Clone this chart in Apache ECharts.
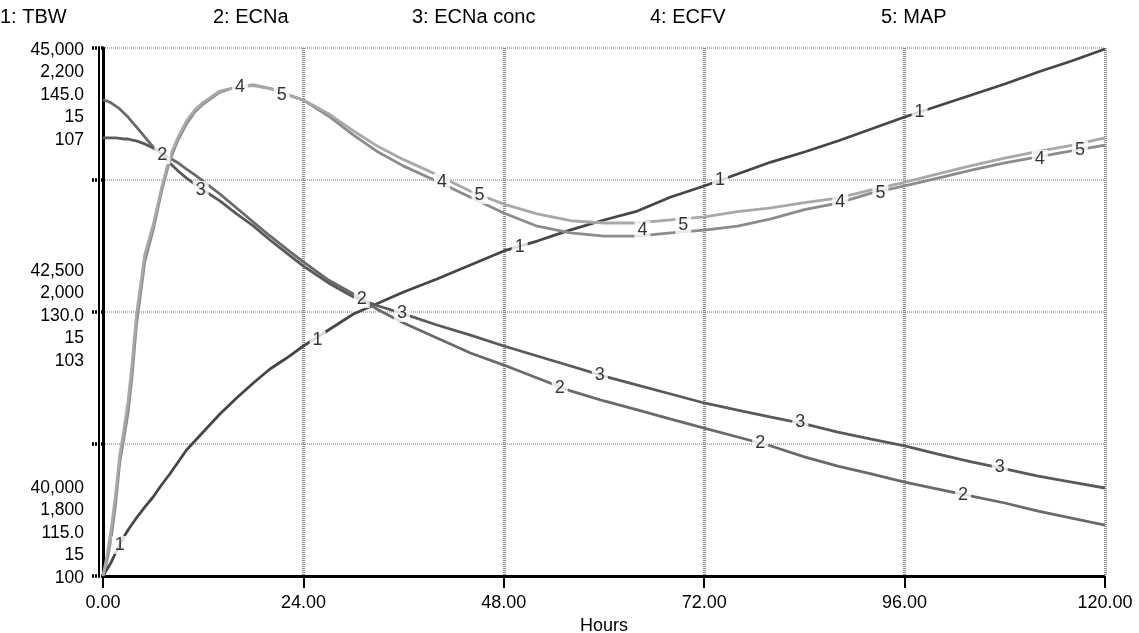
<!DOCTYPE html>
<html>
<head>
<meta charset="utf-8">
<script src="https://cdn.jsdelivr.net/npm/echarts@6/dist/echarts.min.js"></script>
<style>
  html, body { margin: 0; padding: 0; background: #fff; }
  #chart { width: 1139px; height: 633px; }
</style>
</head>
<body>
<div id="chart"></div>
<script>
// Simulation output sampled over 120 hours
const hours = [0, 0.5, 1, 1.5, 2, 2.5, 3, 3.5, 4, 5, 6, 7, 8, 9, 10, 11, 12, 14, 16, 18, 20, 22, 24,
  27, 30, 33, 36, 40, 44, 48, 52, 56, 60, 64, 68, 72, 76, 80, 84, 88, 92, 96, 100, 104, 108, 112, 116, 120];

const tbw = [40000, 40066, 40133, 40218, 40294, 40369, 40436, 40492, 40549, 40653, 40748, 40862, 40966,
  41080, 41193, 41278, 41364, 41534, 41686, 41828, 41960, 42064, 42178, 42330, 42481, 42585, 42689,
  42813, 42945, 43078, 43172, 43277, 43371, 43456, 43589, 43693, 43807, 43920, 44015, 44119, 44233,
  44347, 44451, 44555, 44659, 44773, 44877, 44991];

const ecna = [2160.6, 2159.8, 2158.3, 2156.1, 2153.8, 2150.8, 2147.7, 2143.9, 2140.2, 2132.6, 2125.0,
  2120.5, 2116.7, 2112.9, 2108.3, 2103.8, 2099.2, 2089.4, 2078.8, 2068.2, 2057.6, 2047.7, 2037.9,
  2024.2, 2013.6, 2001.5, 1991.7, 1980.3, 1968.9, 1959.8, 1950.0, 1940.2, 1932.6, 1925.8, 1918.9,
  1912.1, 1905.3, 1898.5, 1890.2, 1883.3, 1877.3, 1871.2, 1865.9, 1860.6, 1855.3, 1849.2, 1843.9, 1838.6];

const ecnaConc = [139.89, 139.89, 139.89, 139.89, 139.86, 139.83, 139.83, 139.77, 139.72, 139.55, 139.32,
  138.98, 138.47, 138.01, 137.61, 137.27, 136.93, 136.31, 135.57, 134.89, 134.09, 133.35, 132.61,
  131.65, 130.85, 130.34, 129.89, 129.26, 128.69, 128.07, 127.50, 126.93, 126.36, 125.85, 125.34,
  124.83, 124.43, 124.03, 123.64, 123.18, 122.78, 122.39, 121.93, 121.48, 121.08, 120.68, 120.34, 120.00];

const ecfv = [14.600, 14.624, 14.659, 14.708, 14.771, 14.809, 14.847, 14.905, 14.980, 15.076, 15.124,
  15.182, 15.230, 15.261, 15.285, 15.303, 15.315, 15.333, 15.341, 15.344, 15.339, 15.330, 15.321,
  15.297, 15.268, 15.242, 15.221, 15.198, 15.174, 15.150, 15.130, 15.120, 15.115, 15.115, 15.120,
  15.124, 15.130, 15.141, 15.155, 15.165, 15.180, 15.191, 15.203, 15.215, 15.226, 15.235, 15.244, 15.253];

const map = [100.00, 100.28, 100.64, 101.07, 101.60, 101.94, 102.31, 102.84, 103.46, 104.26, 104.65,
  105.14, 105.56, 105.82, 106.03, 106.18, 106.28, 106.43, 106.48, 106.50, 106.46, 106.38, 106.31,
  106.13, 105.90, 105.69, 105.52, 105.32, 105.10, 104.93, 104.80, 104.71, 104.68, 104.68, 104.72,
  104.76, 104.83, 104.88, 104.95, 105.01, 105.12, 105.22, 105.33, 105.44, 105.54, 105.63, 105.71, 105.81];

// Series names and the scale each one is plotted on
const seriesNames = ['TBW', 'ECNa', 'ECNa conc', 'ECFV', 'MAP'];
const scaleMin = [40000, 1800, 115, 14.6, 100];
const scaleMax = [45000, 2200, 145, 15.4, 107];

// Stacked tick labels (one entry per series) at the bottom, middle and top of the y range
const tickLabelsBottom = ['40,000', '1,800', '115.0', '15', '100'];
const tickLabelsMiddle = ['42,500', '2,000', '130.0', '15', '103'];
const tickLabelsTop = ['45,000', '2,200', '145.0', '15', '107'];

// Where each curve carries its number tag
const labelHours = [
  [2.0, 25.7, 49.9, 73.9, 97.8],
  [7.1, 31.0, 54.7, 78.7, 103.0],
  [11.7, 35.8, 59.5, 83.5, 107.4],
  [16.4, 40.6, 64.6, 88.3, 112.2],
  [21.4, 45.1, 69.5, 93.1, 117.0]
];
const tbwTags = [40294, 42235, 43116, 43750, 44394];
const ecnaTags = [2118.9, 2009.8, 1942.4, 1900.8, 1861.4];
const ecnaConcTags = [136.93, 129.94, 126.42, 123.75, 121.19];
const ecfvTags = [15.341, 15.197, 15.124, 15.167, 15.232];
const mapTags = [106.38, 105.05, 104.65, 105.08, 105.65];

const xTicks = { min: 0, max: 120, interval: 24 };
const legendLeft = [0, 213, 412, 650, 881];

const FONT = '"Liberation Sans", Arial, Helvetica, sans-serif';
const lineColors = ['#464646', '#6a6a6a', '#5a5a5a', '#8c8c8c', '#a8a8a8'];
const valueSets = [tbw, ecna, ecnaConc, ecfv, map];
const tagSets = [tbwTags, ecnaTags, ecnaConcTags, ecfvTags, mapTags];

// a short spacer line pushes each stacked block a few pixels down
function stackedLabel(idx) {
  if (idx === 0) return '{s| }\n' + tickLabelsBottom.join('\n') + '\n\n\n\n';
  if (idx === 2) return '{s| }\n{s| }\n' + tickLabelsMiddle.join('\n');
  if (idx === 4) return '{s| }\n\n\n\n\n' + tickLabelsTop.join('\n');
  return '';
}

const yAxes = scaleMin.map((mn, i) => {
  const step = (scaleMax[i] - mn) / 4;
  if (i !== 0) {
    return { type: 'value', min: mn, max: scaleMax[i], show: false, position: 'left' };
  }
  return {
    type: 'value',
    position: 'left',
    min: mn,
    max: scaleMax[i],
    interval: step,
    axisLine: { show: true, lineStyle: { color: '#000', width: 3 } },
    axisTick: { show: true, length: 11, lineStyle: { color: '#000', width: 3.5, type: [2, 1] } },
    axisLabel: {
      margin: 19,
      color: '#000',
      fontSize: 17.5,
      fontFamily: FONT,
      lineHeight: 22.5,
      align: 'right',
      rich: { s: { fontSize: 2, lineHeight: 4 } },
      formatter: (v) => stackedLabel(Math.round((v - mn) / step))
    },
    splitLine: { show: true, lineStyle: { color: '#b4b4b4', width: 2, type: [1, 1] } }
  };
});
// outer rule of the double left border
yAxes.push({
  type: 'value', position: 'left', offset: 4, min: 0, max: 1,
  axisLine: { show: true, lineStyle: { color: '#000', width: 2 } },
  axisTick: { show: false }, axisLabel: { show: false }, splitLine: { show: false }
});

const series = [];
valueSets.forEach((vals, i) => {
  series.push({
    name: seriesNames[i],
    type: 'line',
    yAxisIndex: i,
    data: hours.map((h, k) => [h, vals[k]]),
    showSymbol: false,
    symbol: 'none',
    silent: true,
    lineStyle: { color: lineColors[i], width: 2.8 },
    z: 2
  });
});
tagSets.forEach((vals, i) => {
  series.push({
    type: 'scatter',
    yAxisIndex: i,
    data: labelHours[i].map((h, k) => [h, vals[k]]),
    symbolSize: 1,
    silent: true,
    itemStyle: { color: 'rgba(0,0,0,0)' },
    label: {
      show: true,
      position: 'inside',
      formatter: String(i + 1),
      color: '#000',
      fontSize: 18,
      fontFamily: FONT,
      backgroundColor: '#fff',
      padding: [0, 3]
    },
    z: 5
  });
});

const chart = echarts.init(document.getElementById('chart'), null, { renderer: 'canvas' });
chart.setOption({
  animation: false,
  backgroundColor: '#fff',
  title: seriesNames.map((n, i) => ({
    text: (i + 1) + ': ' + n,
    left: legendLeft[i],
    top: 7,
    padding: 0,
    textStyle: { fontSize: 20, fontWeight: 'normal', color: '#000', fontFamily: FONT }
  })),
  grid: { left: 103, right: 34, top: 48, bottom: 57, containLabel: false, outerBoundsMode: 'none' },
  xAxis: {
    type: 'value',
    min: xTicks.min,
    max: xTicks.max,
    interval: xTicks.interval,
    name: 'Hours',
    nameLocation: 'middle',
    nameGap: 37,
    nameTextStyle: { fontSize: 18, color: '#000', fontFamily: FONT },
    axisLine: { show: true, lineStyle: { color: '#000', width: 3, type: [2, 1] } },
    axisTick: { show: true, length: 12, lineStyle: { color: '#000', width: 2 } },
    axisLabel: {
      margin: 18, color: '#000', fontSize: 18, fontFamily: FONT,
      formatter: (v) => v.toFixed(2)
    },
    splitLine: { show: true, lineStyle: { color: '#8a8a8a', width: 3, type: [1, 1] } }
  },
  yAxis: yAxes,
  series: series
});
</script>
</body>
</html>
